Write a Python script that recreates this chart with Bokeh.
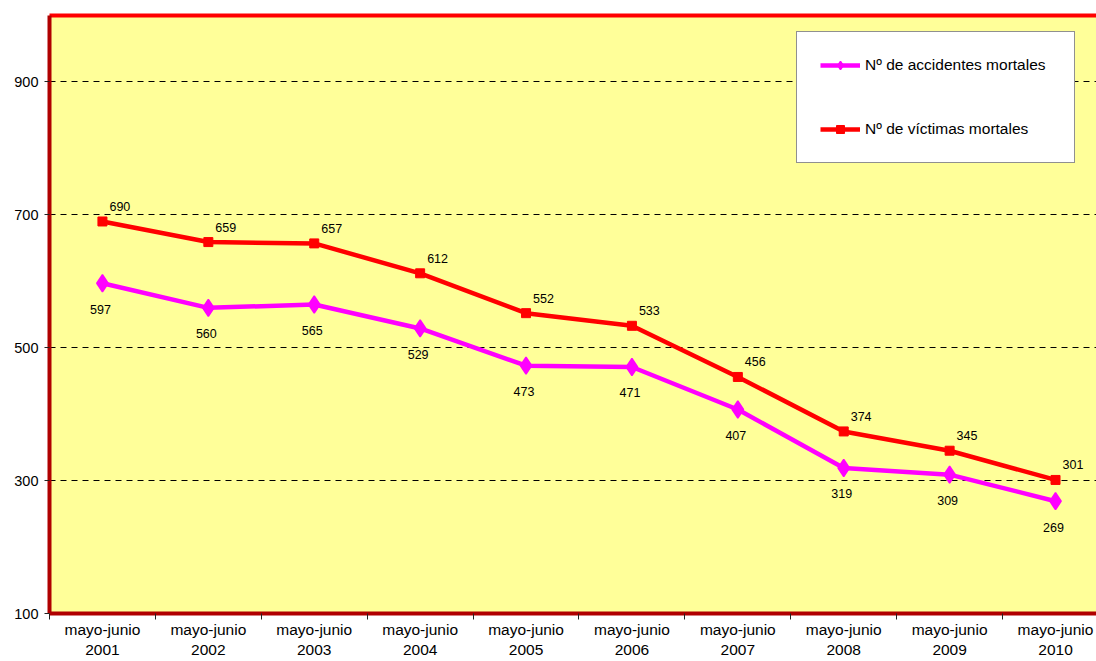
from bokeh.plotting import figure
from bokeh.models import (Range1d, FixedTicker, LinearAxis, Legend, LegendItem,
                          LabelSet, ColumnDataSource)
from bokeh.core.properties import value
from bokeh.embed import file_html
from bokeh.resources import INLINE

# ---- data ----
categories = ["mayo-junio\n2001", "mayo-junio\n2002", "mayo-junio\n2003",
              "mayo-junio\n2004", "mayo-junio\n2005", "mayo-junio\n2006",
              "mayo-junio\n2007", "mayo-junio\n2008", "mayo-junio\n2009",
              "mayo-junio\n2010"]
accidentes = [597, 560, 565, 529, 473, 471, 407, 319, 309, 269]
victimas = [690, 659, 657, 612, 552, 533, 456, 374, 345, 301]
y_ticks = [100, 300, 500, 700, 900]
series_names = ["Nº de accidentes mortales", "Nº de víctimas mortales"]

FONT = "Liberation Sans"
x = list(range(len(categories)))
y_min, y_max = 100, 1000

src = ColumnDataSource(dict(
    x=x, acc=accidentes, vic=victimas,
    acc_txt=[str(v) for v in accidentes],
    vic_txt=[str(v) for v in victimas],
))

p = figure(width=1096, height=661,
           x_range=Range1d(-0.5, 9.387), y_range=Range1d(y_min, y_max),
           output_backend="svg", toolbar_location=None,
           min_border_left=49, min_border_right=0, min_border_top=15,
           min_border_bottom=48,
           background_fill_color="#FFFF99", border_fill_color="white",
           outline_line_color=None)

# grid
p.xgrid.grid_line_color = None
p.ygrid.ticker = FixedTicker(ticks=y_ticks[1:])
p.ygrid.grid_line_color = "#000000"
p.ygrid.grid_line_dash = "6 5"
p.ygrid.grid_line_width = 1

# y axis
p.yaxis.ticker = FixedTicker(ticks=y_ticks)
p.yaxis.axis_line_color = "#B00000"
p.yaxis.axis_line_width = 4
p.yaxis.major_tick_out = 5
p.yaxis.major_tick_in = 0
p.yaxis.major_tick_line_color = "#222222"
p.yaxis.minor_tick_line_color = None
p.yaxis.major_label_text_font = FONT
p.yaxis.major_label_text_font_size = "14.5px"
p.yaxis.major_label_text_color = "#000000"
p.yaxis.major_label_standoff = 6

# x axis: labels at category centres, tick marks at boundaries
p.xaxis.ticker = FixedTicker(ticks=x,
                             minor_ticks=[i - 0.5 for i in range(len(categories) + 1)])
p.xaxis.major_label_overrides = {i: c for i, c in zip(x, categories)}
p.xaxis.axis_line_color = "#B00000"
p.xaxis.axis_line_width = 4
p.xaxis.major_tick_out = 0
p.xaxis.major_tick_in = 0
p.xaxis.minor_tick_out = 6
p.xaxis.minor_tick_in = 0
p.xaxis.minor_tick_line_color = "#222222"
p.xaxis.major_label_text_font = FONT
p.xaxis.major_label_text_font_size = "15.5px"
p.xaxis.major_label_text_line_height = 1.22
p.xaxis.major_label_text_color = "#000000"
p.xaxis.major_label_standoff = 1

# top border
top = LinearAxis(ticker=FixedTicker(ticks=[]), axis_line_color="#FF0000",
                 axis_line_width=4, major_tick_out=0, major_tick_in=0,
                 minor_tick_out=0, minor_tick_in=0)
p.add_layout(top, "above")

# series
l1 = p.line("x", "acc", source=src, line_color="#FF00FF", line_width=4.5)
s1 = p.scatter("x", "acc", source=src, marker="diamond", size=17, line_width=1.5,
               fill_color="#FF00FF", line_color="#FF00FF")
l2 = p.line("x", "vic", source=src, line_color="#FF0000", line_width=4.5)
s2 = p.scatter("x", "vic", source=src, marker="square", size=9,
               fill_color="#FF0000", line_color="#FF0000")

# data labels
lab1 = LabelSet(x="x", y="acc", text="acc_txt", source=src, x_offset=-2, y_offset=-26,
                text_align="center", text_baseline="middle",
                text_font=value(FONT), text_font_size="12.5px", text_color="#000000")
lab2 = LabelSet(x="x", y="vic", text="vic_txt", source=src, x_offset=7, y_offset=15,
                text_align="left", text_baseline="middle",
                text_font=value(FONT), text_font_size="12.5px", text_color="#000000")
p.add_layout(lab1)
p.add_layout(lab2)

legend = Legend(items=[LegendItem(label=series_names[0], renderers=[l1, s1]),
                       LegendItem(label=series_names[1], renderers=[l2, s2])],
                location=(747, 450), padding=23, spacing=44,
                label_height=20, glyph_height=20, glyph_width=40,
                label_standoff=5, label_width=186,
                label_text_font=FONT, label_text_font_size="15.5px",
                label_text_color="#000000",
                border_line_color="#222222", border_line_width=1,
                background_fill_color="white", background_fill_alpha=1.0)
p.add_layout(legend)

open("out.html", "w").write(file_html(p, INLINE))
